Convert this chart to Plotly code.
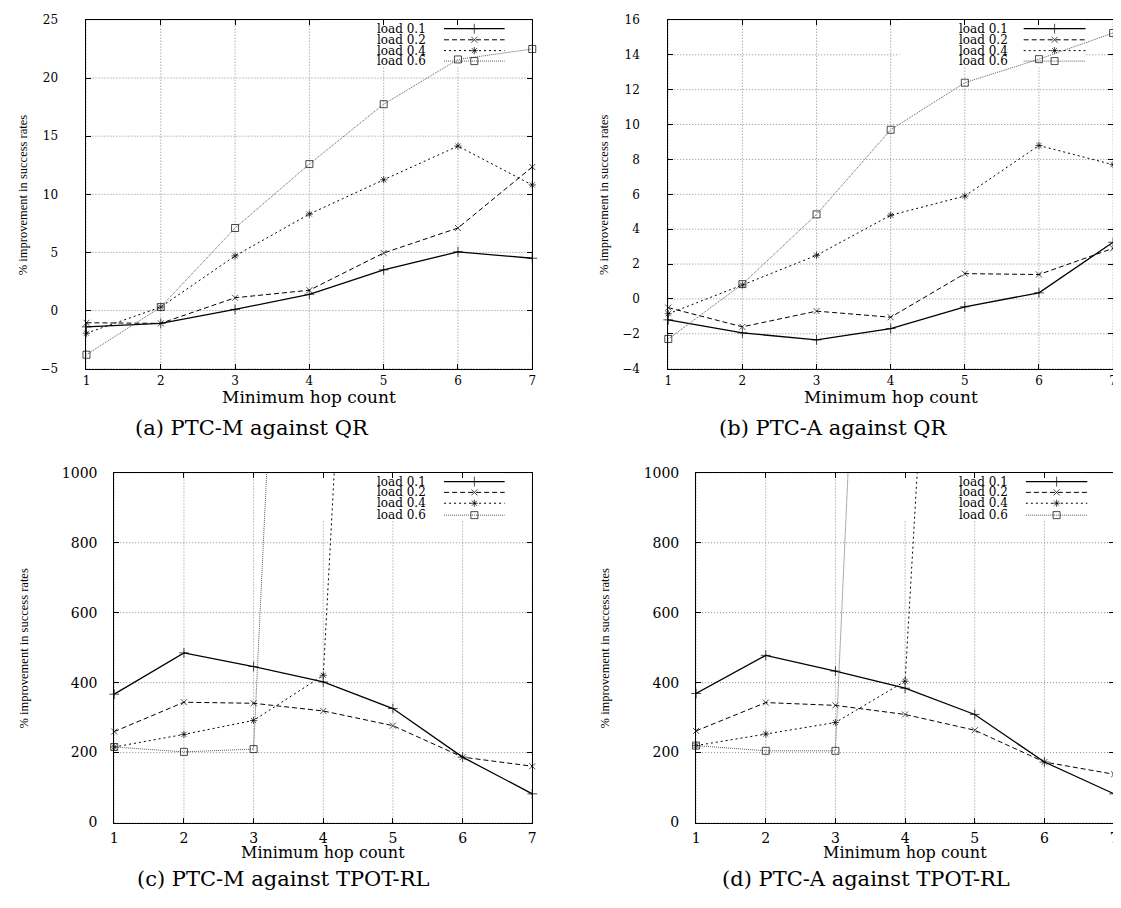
import plotly.graph_objects as go

# ---------------- data ----------------
hops = [1, 2, 3, 4, 5, 6, 7]
series_names = ["load 0.1", "load 0.2", "load 0.4", "load 0.6"]

# (a) PTC-M against QR
a_load01 = [-1.4, -1.1, 0.1, 1.4, 3.5, 5.05, 4.5]
a_load02 = [-1.05, -1.1, 1.1, 1.75, 4.95, 7.1, 12.35]
a_load04 = [-1.95, 0.3, 4.7, 8.3, 11.25, 14.15, 10.8]
a_load06 = [-3.8, 0.3, 7.1, 12.6, 17.75, 21.6, 22.5]

# (b) PTC-A against QR
b_load01 = [-1.2, -1.95, -2.35, -1.7, -0.45, 0.35, 3.25]
b_load02 = [-0.5, -1.6, -0.7, -1.05, 1.45, 1.4, 2.9]
b_load04 = [-0.85, 0.8, 2.5, 4.8, 5.9, 8.8, 7.7]
b_load06 = [-2.3, 0.85, 4.85, 9.7, 12.4, 13.75, 15.25]

# (c) PTC-M against TPOT-RL  (last points of 0.4 / 0.6 lie far above 1000)
c_load01 = [367, 485, 446, 402, 326, 187, 82]
c_load02 = [260, 344, 341, 319, 277, 187, 161]
c_load04 = [216, 252, 292, 421, 4110]
c_load06 = [216, 202, 210, 4410]

# (d) PTC-A against TPOT-RL
d_load01 = [369, 478, 433, 384, 309, 173, 82]
d_load02 = [262, 343, 335, 309, 264, 173, 138]
d_load04 = [220, 253, 286, 404, 3830]
d_load06 = [220, 205, 205, 4600]

captions = ["(a) PTC-M against QR", "(b) PTC-A against QR",
            "(c) PTC-M against TPOT-RL", "(d) PTC-A against TPOT-RL"]
x_title = "Minimum hop count"
y_title = "% improvement in success rates"

yticks_a = [-5, 0, 5, 10, 15, 20, 25]
yticks_b = [-4, -2, 0, 2, 4, 6, 8, 10, 12, 14, 16]
yticks_cd = [0, 200, 400, 600, 800, 1000]

# ---------------- styles / layout ----------------
W, H = 1121, 908
OFF = 8  # page body margin that shifts the figure inside the browser window
styles = {
    "load 0.1": dict(color="black", width=1.3, dash="solid", symbol="cross-thin-open", size=7),
    "load 0.2": dict(color="black", width=1.0, dash="5px,3px", symbol="x-thin-open", size=6),
    "load 0.4": dict(color="black", width=1.0, dash="2px,3px", symbol="asterisk-open", size=6),
    "load 0.6": dict(color="#5a5a5a", width=1.0, dash="1px,1px", symbol="square-open", size=7),
}
GRID = dict(color="#8a8a8a", width=1, dash="1px,2px")


def fx(px):
    return (px - OFF) / W


def fy(py):
    return 1 - (py - OFF) / H


panels = [
    dict(series=[a_load01, a_load02, a_load04, a_load06], yr=[-5, 25], yt=yticks_a,
         xd=[fx(83), fx(532)], yd=[fy(367), fy(12)], tfs=12, ystand=25, xstand=1,
         txt_r=0.766, s0=0.802, s1=0.938, rows=[0.975, 0.943, 0.912, 0.882],
         box=[0.52, 0.94, 0.868], xt_y=396, xt_fs=17, ytx=19, cap=(250, 427)),
    dict(series=[b_load01, b_load02, b_load04, b_load06], yr=[-4, 16], yt=yticks_b,
         xd=[fx(669), fx(1117)], yd=[fy(367), fy(12)], tfs=12, ystand=25, xstand=1,
         txt_r=0.768, s0=0.799, s1=0.938, rows=[0.975, 0.943, 0.912, 0.882],
         box=[0.52, 0.94, 0.868], xt_y=396, xt_fs=17, ytx=605, cap=(835, 427)),
    dict(series=[c_load01, c_load02, c_load04, c_load06], yr=[0, 1000], yt=yticks_cd,
         xd=[fx(111), fx(532)], yd=[fy(829), fy(473)], tfs=14, ystand=13, xstand=3,
         txt_r=0.751, s0=0.789, s1=0.934, rows=[0.975, 0.944, 0.913, 0.879],
         box=[0.49, 0.936, 0.865], xt_y=859, xt_fs=16, ytx=20, cap=(281, 886)),
    dict(series=[d_load01, d_load02, d_load04, d_load06], yr=[0, 1000], yt=yticks_cd,
         xd=[fx(697), fx(1118)], yd=[fy(829), fy(473)], tfs=14, ystand=13, xstand=3,
         txt_r=0.751, s0=0.789, s1=0.936, rows=[0.975, 0.944, 0.913, 0.879],
         box=[0.49, 0.936, 0.865], xt_y=859, xt_fs=16, ytx=605, cap=(868, 886)),
]

fig = go.Figure()
annotations = []
layout_axes = {}

for i, p in enumerate(panels):
    n = "" if i == 0 else str(i + 1)
    xa, ya = "x" + n, "y" + n
    xmin, xmax = hops[0], hops[-1]
    ymin, ymax = p["yr"]

    common = dict(ticks="inside", ticklen=5, tickcolor="black", showline=True,
                  linecolor="black", linewidth=1, mirror="ticks", showgrid=False,
                  zeroline=False, ticklabeloverflow="allow",
                  tickfont=dict(family="DejaVu Serif", size=p["tfs"], color="black"))
    layout_axes["xaxis" + n] = dict(common, domain=p["xd"], range=[xmin, xmax],
                                    tickvals=hops, anchor=ya, ticklabelstandoff=p["xstand"])
    layout_axes["yaxis" + n] = dict(common, domain=p["yd"], range=[ymin, ymax],
                                    tickvals=p["yt"], anchor=xa, ticklabelstandoff=p["ystand"])

    # dotted grid, interrupted by the opaque key box (as in gnuplot)
    bx0 = xmin + p["box"][0] * (xmax - xmin)
    bx1 = xmin + p["box"][1] * (xmax - xmin)
    by0 = ymin + p["box"][2] * (ymax - ymin)
    gx, gy = [], []
    for t in p["yt"]:
        if by0 <= t <= ymax:
            gx += [xmin, bx0, None, bx1, xmax, None]
            gy += [t, t, None, t, t, None]
        else:
            gx += [xmin, xmax, None]
            gy += [t, t, None]
    for h in hops:
        top = by0 if bx0 <= h <= bx1 else ymax
        gx += [h, h, None]
        gy += [ymin, top, None]
    fig.add_trace(go.Scatter(x=gx, y=gy, xaxis=xa, yaxis=ya, mode="lines",
                             line=GRID, hoverinfo="skip", showlegend=False))

    for name, ys, row in zip(series_names, p["series"], p["rows"]):
        st = styles[name]
        sizes = [st["size"] if v <= ymax else 0 for v in ys]
        mk = dict(symbol=st["symbol"], size=sizes, color="black",
                  line=dict(width=1, color="black"))
        fig.add_trace(go.Scatter(
            x=hops[:len(ys)], y=ys, xaxis=xa, yaxis=ya, mode="lines+markers",
            line=dict(color=st["color"], width=st["width"], dash=st["dash"]),
            marker=mk, cliponaxis=False, name=name, showlegend=False))
        # key sample
        yk = ymin + row * (ymax - ymin)
        xs0 = xmin + p["s0"] * (xmax - xmin)
        xs1 = xmin + p["s1"] * (xmax - xmin)
        fig.add_trace(go.Scatter(
            x=[xs0, (xs0 + xs1) / 2, xs1], y=[yk, yk, yk], xaxis=xa, yaxis=ya,
            mode="lines+markers",
            line=dict(color=st["color"], width=st["width"], dash=st["dash"]),
            marker=dict(mk, size=[0, st["size"], 0]), showlegend=False, hoverinfo="skip"))
        annotations.append(dict(text=name, xref=xa + " domain", yref=ya + " domain",
                                x=p["txt_r"], y=row, xanchor="right", yanchor="middle",
                                showarrow=False,
                                font=dict(family="DejaVu Serif", size=12, color="black")))

    # axis titles
    xc = (p["xd"][0] + p["xd"][1]) / 2
    annotations.append(dict(text=x_title, xref="paper", yref="paper", x=xc,
                            y=fy(p["xt_y"]), xanchor="center", yanchor="middle",
                            showarrow=False,
                            font=dict(family="DejaVu Serif", size=p["xt_fs"], color="black")))
    ymid = (p["yd"][0] + p["yd"][1]) / 2
    annotations.append(dict(text=y_title, xref="paper", yref="paper", x=fx(p["ytx"]),
                            y=ymid, xanchor="center", yanchor="middle", textangle=-90,
                            showarrow=False,
                            font=dict(family="Liberation Serif", size=12.5, color="black")))
    # caption
    annotations.append(dict(text=captions[i], xref="paper", yref="paper",
                            x=fx(p["cap"][0]), y=fy(p["cap"][1]), xanchor="center",
                            yanchor="middle", showarrow=False,
                            font=dict(family="DejaVu Serif", size=21, color="black")))

fig.update_layout(width=W, height=H, margin=dict(l=0, r=0, t=0, b=0),
                  paper_bgcolor="white", plot_bgcolor="white", showlegend=False,
                  annotations=annotations, **layout_axes)

fig.write_html("out.html")
